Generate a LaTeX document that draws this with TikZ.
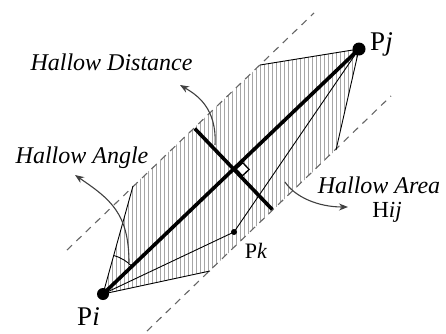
\documentclass[tikz,border=0pt]{standalone}
\usepackage{fontspec}
\setmainfont{Liberation Serif}
\usetikzlibrary{calc, arrows.meta}

\begin{document}
\begin{tikzpicture}[x=1pt, y=1pt, >={Stealth[length=9pt, width=7pt]},
    nhan/.style={font=\fontsize{24}{28}\selectfont\itshape, anchor=base, inner sep=0pt},
    diem/.style={font=\fontsize{27}{32}\selectfont, anchor=base, inner sep=0pt},
    bien/.style={dash pattern=on 7pt off 6pt, line width=1.1pt, black!60},
    mui/.style={->, line width=1.1pt, black!75}]
    \useasboundingbox (0,0) rectangle (446,333);
    % Các điểm
    \coordinate (Pi) at (103,39);
    \coordinate (Pj) at (359,284);
    \coordinate (Pk) at (234,101);
    \coordinate (A) at (133,147);
    \coordinate (B) at (260,268);
    \coordinate (C) at (336,183);
    \coordinate (D) at (210,62);
    
    % Vùng gạch dọc
    \begin{scope}
        \clip (Pi) -- (A) -- (B) -- (Pj) -- (C) -- (D) -- cycle;
        \foreach \x in {104,108,...,360}
            \draw[black!35, line width=0.8pt] (\x,30) -- (\x,290);
    \end{scope}
    
    % Hai đường biên nét đứt
    \coordinate (U1) at (67,83);
    \coordinate (U2) at (314,320);
    \coordinate (L1) at (147,2);
    \coordinate (L2) at (391,237);
    \draw[bien] (U1) -- (U2);
    \draw[bien] (L1) -- (L2);
    
    % Các cạnh mảnh
    \draw[line width=0.9pt] (Pi) -- (A) (B) -- (Pj) -- (C) (D) -- (Pi);
    \draw[line width=0.9pt] (Pi) -- (Pk) -- (Pj);
    \draw[line width=0.9pt] ($(Pi)+(43.7:40pt)$) arc[start angle=43.7, end angle=74.5, radius=40pt];
    
    % Đoạn chính và đoạn vuông góc
    \coordinate (X) at ($(Pi)!0.51!(Pj)$);
    \coordinate (E1) at ($(X)!56pt!90:(Pj)$);
    \coordinate (E2) at ($(X)!56pt!-90:(Pj)$);
    \draw[line width=3.6pt] (Pi) -- (Pj);
    \draw[line width=3.6pt] (E1) -- (E2);
    \draw[line width=1.3pt, fill=white, shift={(X)}, rotate=43.75] (1.8,-1.8) rectangle (11,-11);
    
    % Các điểm đậm
    \fill (Pi) circle (6pt);
    \fill (Pj) circle (6.5pt);
    \fill (Pk) circle (3pt);
    
    % Mũi tên cong
    \coordinate (G1) at (129,70);
    \coordinate (G2) at (75,158);
    \draw[mui] (G1) .. controls (129,120) and (110,134) .. (G2);
    \coordinate (K1) at (215,188);
    \coordinate (K2) at (180,248);
    \draw[mui] (K1) .. controls (217,225) and (197,238) .. (K2);
    \coordinate (M1) at (285,151);
    \coordinate (M2) at (348,126);
    \draw[mui] (M1) .. controls (295,136) and (318,126) .. (M2);
    
    % Nhãn
    \node[diem] (lPi) at (88.5,8) {P\textit{i}};
    \node[diem] (lPj) at (381.5,283) {P\textit{j}};
    \node[diem, font=\fontsize{22}{26}\selectfont] (lPk) at (256,75) {P\textit{k}};
    \node[nhan] (lDist) at (111.5,263) {Hallow Distance};
    \node[nhan] (lAngle) at (82,170) {Hallow Angle};
    \node[nhan] (lArea) at (379,140) {Hallow Area};
    \node[diem, font=\fontsize{23}{27}\selectfont] (lH) at (387,116) {H\textit{ij}};
\end{tikzpicture}
\end{document}
